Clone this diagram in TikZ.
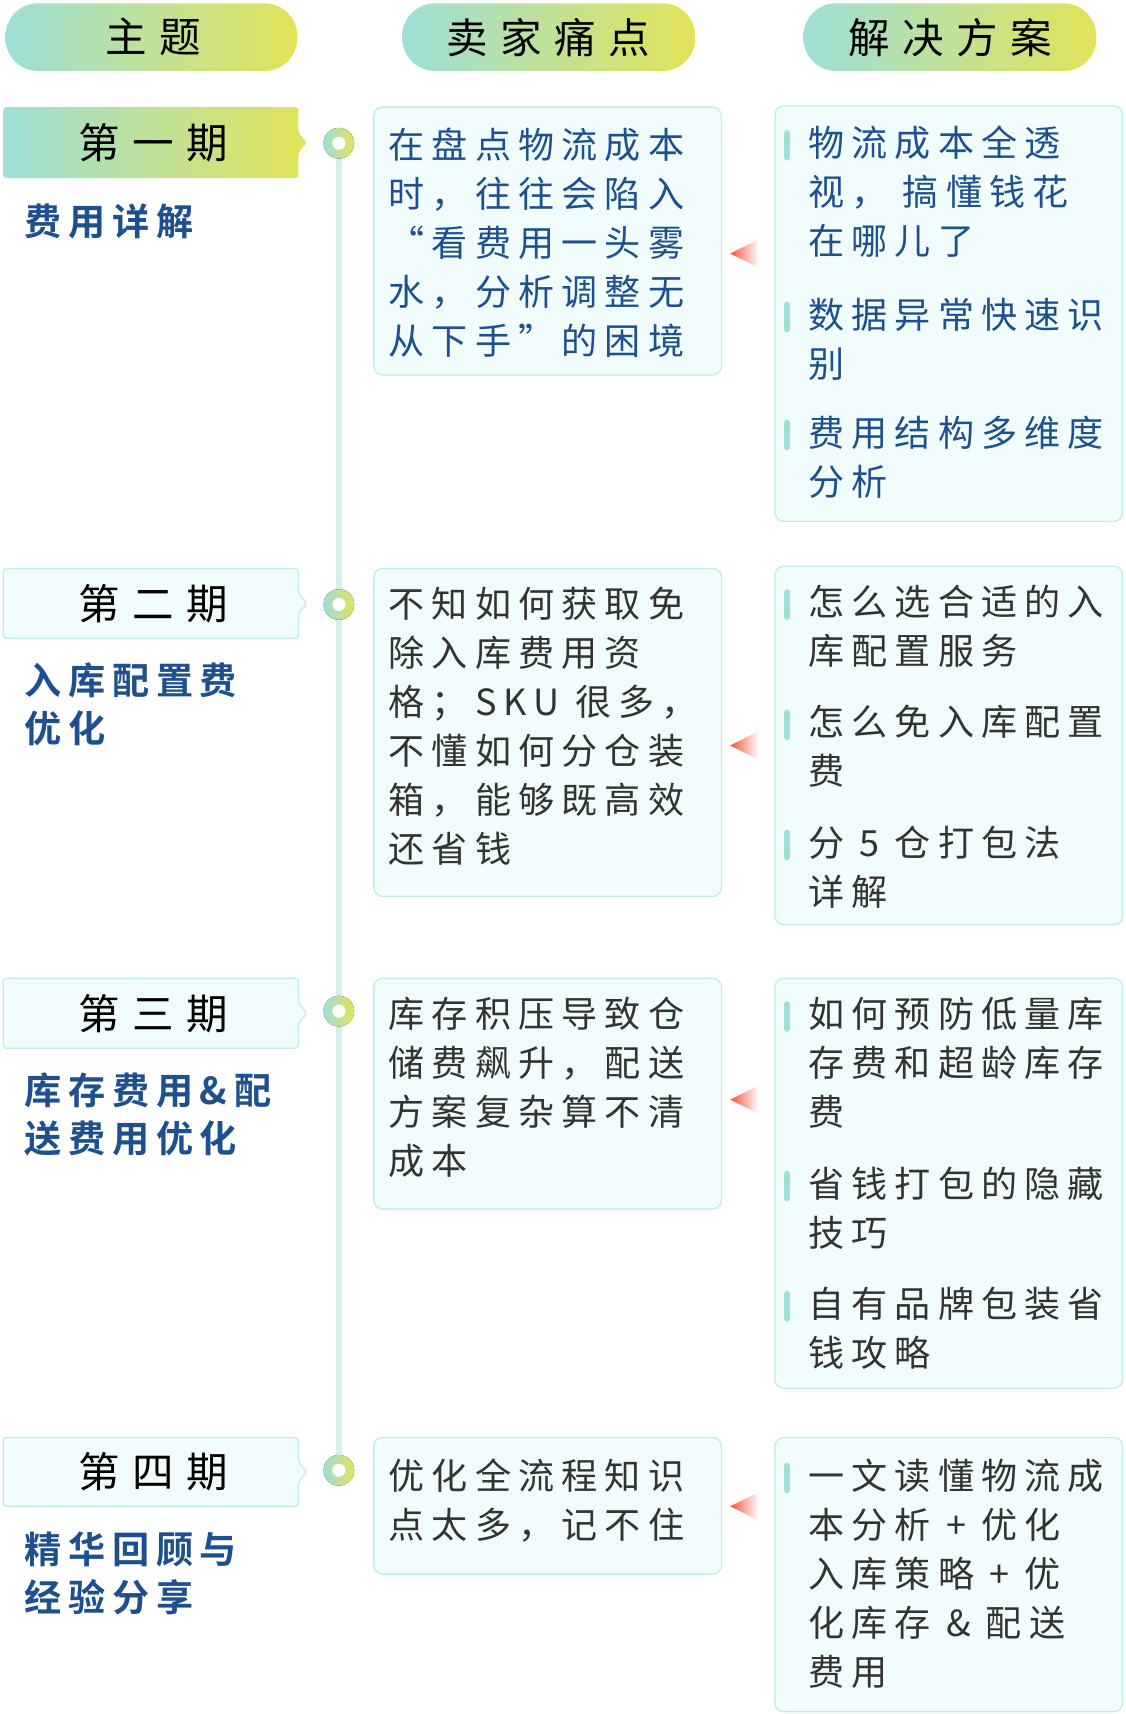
\documentclass[tikz,border=0pt]{standalone}
\usepackage{fontspec}
\newfontfamily\cjk[LetterSpace=20]{Noto Sans CJK SC}
\newfontfamily\cjkh[LetterSpace=30]{Noto Sans CJK SC}
\newfontfamily\cjkb[LetterSpace=18]{Noto Sans CJK SC Bold}
\definecolor{tealc}{HTML}{9EDFD8}
\definecolor{yelc}{HTML}{E2E357}
\definecolor{boxfill}{HTML}{F0FDFC}
\definecolor{boxline}{HTML}{BFEDE7}
\definecolor{bluet}{HTML}{1E4F8E}
\definecolor{greyt}{HTML}{333333}
\definecolor{linec}{HTML}{D6F1ED}
\definecolor{redc}{HTML}{F4543A}
\begin{document}
\begin{tikzpicture}[x=0.5pt,y=-0.5pt,
  pill/.style={rounded corners=15pt,left color=tealc,right color=yelc},
  box/.style={draw=boxline,fill=boxfill,line width=0.6pt,rounded corners=4pt},
  txt/.style={anchor=north west,inner sep=0pt,align=left,font={\cjk\fontsize{16.5}{22.4}\selectfont}},
  ttl/.style={anchor=north west,inner sep=0pt,align=left,text=bluet,font={\cjkb\fontsize{17}{22}\selectfont}},
  hdr/.style={inner sep=0pt,font={\cjkh\fontsize{19}{22}\selectfont}},
  bar/.style={line width=3pt,draw=tealc,line cap=round}]
\useasboundingbox (0,0) rectangle (1030,1568);
% headers
\path[pill] (5,3) rectangle (272,65);
\node[hdr] (h1) at (140,34) {主题};
\path[pill] (368,3) rectangle (636,65);
\node[hdr] (h2) at (502,34) {卖家痛点};
\path[pill] (735,3) rectangle (1003,65);
\node[hdr] (h3) at (869,34) {解决方案};
% timeline
\draw[linec,line width=3pt] (310,131) -- (310,1345);
\foreach \y/\n in {131/c1,553/c2,925/c3,1345/c4}{
  \fill[left color=tealc,right color=yelc] (310,\y) circle (7pt);
  \fill[white] (310,\y) circle (3pt);
  \coordinate (\n) at (310,\y);
}
% tabs
\foreach \t/\b/\lab/\f in {98/163/第一期/1,520/584/第二期/0,895/959/第三期/0,1315/1378/第四期/0}{
  \pgfmathsetmacro\m{(\t+\b)/2}
  \ifnum\f=1
    \path[left color=tealc,right color=yelc,rounded corners=1.5pt] (3,\t) -- (273,\t) -- (273,\m-9) -- (281,\m) -- (273,\m+9) -- (273,\b) -- (3,\b) -- cycle;
  \else
    \path[box,rounded corners=1.5pt] (3,\t) -- (273,\t) -- (273,\m-9) -- (281,\m) -- (273,\m+9) -- (273,\b) -- (3,\b) -- cycle;
  \fi
  \node[hdr] at (140,\m) {\lab};
}
\node[ttl] (s1) at (22,186) {费用详解};
\node[ttl] (s2) at (22,606) {入库配置费\\优化};
\node[ttl] (s3) at (22,981) {库存费用\&配\\送费用优化};
\node[ttl] (s4) at (22,1401) {精华回顾与\\经验分享};
% middle boxes
\draw[box] (342,98) rectangle (660,343);
\node[txt,text=bluet] (m1) at (355,117) {在盘点物流成本\\时，往往会陷入\\“看费用一头雾\\水，分析调整无\\从下手”的困境};
\draw[box] (342,520) rectangle (660,820);
\node[txt,text=greyt] (m2) at (355,537) {不知如何获取免\\除入库费用资\\格；SKU 很多，\\不懂如何分仓装\\箱，能够既高效\\还省钱};
\draw[box] (342,895) rectangle (660,1106);
\node[txt,text=greyt] (m3) at (355,912) {库存积压导致仓\\储费飙升，配送\\方案复杂算不清\\成本};
\draw[box] (342,1315) rectangle (660,1440);
\node[txt,text=greyt] (m4) at (355,1334) {优化全流程知识\\点太多，记不住};
% triangles
\foreach \y in {232,682,1006,1378}{
  \path[left color=redc,right color=white] (668,\y) -- (694,\y-13) -- (694,\y+13) -- cycle;
}
% right boxes
\draw[box] (709,97) rectangle (1027,477);
\draw[box] (709,518) rectangle (1027,846);
\draw[box] (709,895) rectangle (1027,1270);
\draw[box] (709,1315) rectangle (1027,1566);
\foreach \y in {122,279,387,542,652,762,919,1074,1184,1341}{
  \draw[bar] (720,\y) -- (720,\y+22);
}
\node[txt,text=bluet] (r11) at (739,115) {物流成本全透\\视， 搞懂钱花\\在哪儿了};
\node[txt,text=bluet] (r12) at (739,272) {数据异常快速识\\别};
\node[txt,text=bluet] (r13) at (739,380) {费用结构多维度\\分析};
\node[txt,text=greyt] (r21) at (739,535) {怎么选合适的入\\库配置服务};
\node[txt,text=greyt] (r22) at (739,645) {怎么免入库配置\\费};
\node[txt,text=greyt] (r23) at (739,755) {分 5 仓打包法\\详解};
\node[txt,text=greyt] (r31) at (739,912) {如何预防低量库\\存费和超龄库存\\费};
\node[txt,text=greyt] (r32) at (739,1067) {省钱打包的隐藏\\技巧};
\node[txt,text=greyt] (r33) at (739,1177) {自有品牌包装省\\钱攻略};
\node[txt,text=greyt] (r41) at (739,1334) {一文读懂物流成\\本分析 + 优化\\入库策略 + 优\\化库存 \& 配送\\费用};
\end{tikzpicture}
\end{document}
